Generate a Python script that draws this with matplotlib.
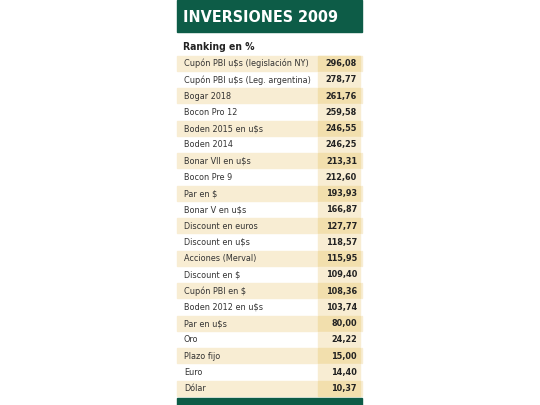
import matplotlib
matplotlib.use("Agg")
import matplotlib.pyplot as plt
from matplotlib.patches import Rectangle

names = ["Cupón PBI u$s (legislación NY)", "Cupón PBI u$s (Leg. argentina)", "Bogar 2018",
         "Bocon Pro 12", "Boden 2015 en u$s", "Boden 2014", "Bonar VII en u$s", "Bocon Pre 9",
         "Par en $", "Bonar V en u$s", "Discount en euros", "Discount en u$s",
         "Acciones (Merval)", "Discount en $", "Cupón PBI en $", "Boden 2012 en u$s",
         "Par en u$s", "Oro", "Plazo fijo", "Euro", "Dólar"]
values = [296.08, 278.77, 261.76, 259.58, 246.55, 246.25, 213.31, 212.60, 193.93, 166.87,
          127.77, 118.57, 115.95, 109.40, 108.36, 103.74, 80.00, 24.22, 15.00, 14.40, 10.37]
title = "INVERSIONES 2009"
subtitle = "Ranking en %"

fam = "DejaVu Sans"
st = "condensed"

fig = plt.figure(figsize=(5.4, 4.05), dpi=100)
ax = fig.add_axes([0, 0, 1, 1])
ax.set_xlim(0, 540)
ax.set_ylim(405, 0)
ax.axis("off")

green = "#0d5c47"
x0, x1 = 177, 362
vx0 = 318
ax.add_patch(Rectangle((x0, 0), x1 - x0, 32, color=green))
ax.text(x0 + 6, 17, title, color="white", fontsize=11.5, fontweight="bold", family=fam,
        fontstretch=st, va="center")
ax.text(x0 + 6, 47, subtitle, color="#222", fontsize=7.5, fontweight="bold", family=fam,
        fontstretch=st, va="center")

top = 55.5
h = 16.25
for i, (n, v) in enumerate(zip(names, values)):
    y = top + i * h
    if i % 2 == 0:
        ax.add_patch(Rectangle((x0, y), x1 - x0, h - 1, color="#f8edd3"))
        ax.add_patch(Rectangle((vx0, y), x1 - 2 - vx0, h - 1, color="#f2dfad"))
    else:
        ax.add_patch(Rectangle((vx0, y), x1 - 2 - vx0, h - 1, color="#f8edd3"))
    ax.text(x0 + 7, y + h / 2, n, fontsize=6.5, family=fam, fontstretch=st,
            va="center", color="#333")
    ax.text(x1 - 5, y + h / 2, f"{v:.2f}".replace(".", ","), fontsize=6.5, fontweight="bold",
            family=fam, fontstretch=st, va="center", ha="right", color="#222")

ax.add_patch(Rectangle((x0, 398), x1 - x0, 7, color=green))
fig.savefig("out.png", dpi=100)
